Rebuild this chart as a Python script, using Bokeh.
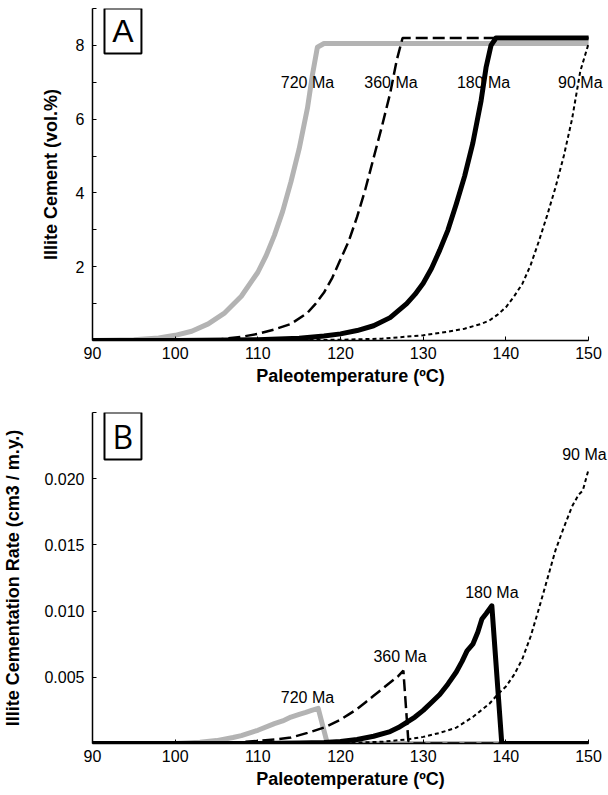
from bokeh.plotting import figure
from bokeh.models import Range1d, FixedTicker, NumeralTickFormatter, Label, BoxAnnotation
from bokeh.layouts import column
from bokeh.embed import file_html
from bokeh.resources import INLINE

# ---------------- Panel A : cumulative illite cement (vol.%) ----------------
t720_A = [90, 95, 98, 100, 102, 104, 106, 108, 110, 111, 112, 113, 114, 115, 116, 116.6, 117.2, 118, 150]
c720_A = [0, 0.02, 0.07, 0.14, 0.25, 0.45, 0.75, 1.2, 1.85, 2.3, 2.85, 3.5, 4.3, 5.2, 6.3, 7.2, 7.95, 8.05, 8.05]

t360_A = [90, 100, 105, 108, 110, 112, 114, 116, 117, 118, 119, 120, 121, 122, 123, 124, 125, 126, 126.8, 127.5, 150]
c360_A = [0, 0, 0.02, 0.1, 0.18, 0.3, 0.45, 0.75, 1.0, 1.3, 1.7, 2.2, 2.7, 3.35, 4.1, 4.95, 5.8, 6.7, 7.6, 8.2, 8.2]

t180_A = [90, 100, 110, 115, 118, 120, 122, 124, 126, 128, 129, 130, 131, 132, 133, 134, 135, 136, 137, 137.6, 138.2, 138.8, 150]
c180_A = [0, 0, 0.02, 0.06, 0.12, 0.18, 0.27, 0.4, 0.62, 1.0, 1.25, 1.55, 1.95, 2.45, 3.0, 3.7, 4.45, 5.35, 6.5, 7.4, 8.0, 8.2, 8.2]

t90_A = [90, 110, 120, 125, 130, 133, 135, 137, 138, 139, 140, 141, 142, 143, 144, 145, 146, 147, 148, 149, 150]
c90_A = [0, 0, 0.02, 0.05, 0.14, 0.24, 0.32, 0.45, 0.54, 0.7, 0.9, 1.2, 1.54, 2.05, 2.7, 3.4, 4.15, 5.0, 6.0, 7.3, 8.05]

# ---------------- Panel B : illite cementation rate (cm3 / m.y.) ----------------
t720_B = [90, 100, 103, 105, 107, 108, 110, 112, 113, 114, 115, 115.8, 116.5, 117.3, 118.4, 150]
r720_B = [0, 0, 0.0001, 0.00022, 0.00045, 0.0006, 0.001, 0.0015, 0.0017, 0.002, 0.0022, 0.00235, 0.0025, 0.00265, 0, 0]

t360_B = [90, 105, 108, 110, 112, 114, 116, 118, 120, 121, 122, 123, 124, 125, 126, 127, 127.6, 128.2, 128.5, 150]
r360_B = [0, 0, 0.0001, 0.0002, 0.0003, 0.00045, 0.0008, 0.0012, 0.0018, 0.0022, 0.0026, 0.0031, 0.0036, 0.0041, 0.0046, 0.0051, 0.0055, 0.0002, 0, 0]

t180_B = [90, 110, 115, 118, 120, 122, 124, 126, 127, 128, 129, 130, 131, 132, 133, 134, 134.7, 135.3, 136, 136.6, 137.1, 137.6, 138.3, 139.5, 150]
r180_B = [0, 0, 0.00003, 0.00008, 0.00015, 0.0003, 0.00055, 0.0009, 0.0012, 0.0016, 0.002, 0.0025, 0.0031, 0.0037, 0.0045, 0.0054, 0.0062, 0.007, 0.0075, 0.0084, 0.0094, 0.0098, 0.0104, 0, 0]

t90_B = [90, 115, 120, 125, 128, 130, 132, 134, 135, 136, 137, 138, 139, 140, 141, 142, 143, 144, 145, 146, 147, 148, 148.8, 149.3, 150]
r90_B = [0, 0, 0.00003, 0.00013, 0.0003, 0.0005, 0.0008, 0.0012, 0.0016, 0.002, 0.0025, 0.003, 0.0037, 0.0043, 0.0052, 0.0064, 0.0081, 0.0102, 0.0124, 0.0146, 0.0163, 0.0179, 0.0188, 0.0191, 0.0207]

# curve labels (text, x, y)
labels_A = [("720 Ma", 116.0, 7.0), ("360 Ma", 126.1, 7.0), ("180 Ma", 137.3, 7.0), ("90 Ma", 149.0, 7.0)]
labels_B = [("720 Ma", 116.0, 0.0035), ("360 Ma", 127.2, 0.0066), ("180 Ma", 138.3, 0.0114), ("90 Ma", 149.5, 0.0218)]

x_ticks = [90, 100, 110, 120, 130, 140, 150]
yA_ticks = [2, 4, 6, 8]
yA_minor = [1, 3, 5, 7, 9]
yB_ticks = [0.005, 0.010, 0.015, 0.020]
yB_minor = [0.025]

FONT = "Liberation Sans"
GRAY = "#b3b3b3"
X_END = 152.41  # frame extends past the 150 axis end so that the labels fit


def style(p, yticks, yminor, ylabel, fmt=None):
    p.xaxis.ticker = FixedTicker(ticks=x_ticks)
    p.xaxis.bounds = (90, 150)
    p.yaxis.ticker = FixedTicker(ticks=yticks, minor_ticks=yminor)
    if fmt:
        p.yaxis.formatter = NumeralTickFormatter(format=fmt)
    p.xgrid.visible = False
    p.ygrid.visible = False
    p.outline_line_color = None
    p.xaxis.axis_label = "Paleotemperature (ºC)"
    p.yaxis.axis_label = ylabel
    for ax in (p.xaxis, p.yaxis):
        ax.axis_line_color = "black"
        ax.axis_line_width = 1.5
        ax.major_tick_line_color = "black"
        ax.minor_tick_line_color = "black"
        ax.major_tick_in = 4
        ax.major_tick_out = 0
        ax.minor_tick_in = 4
        ax.minor_tick_out = 0
        ax.major_label_text_font = FONT
        ax.major_label_text_font_size = "16px"
        ax.major_label_text_color = "black"
        ax.axis_label_text_font = FONT
        ax.axis_label_text_font_size = "18px"
        ax.axis_label_text_font_style = "bold"
        ax.axis_label_text_color = "black"
    p.xaxis.minor_tick_line_color = None
    p.xaxis.major_label_standoff = 6
    p.xaxis.axis_label_standoff = 4
    p.yaxis.major_label_standoff = 8


def draw(p, data, labels):
    (ta, ya), (tb, yb), (tc, yc), (td, yd) = data
    p.line(ta, ya, line_color=GRAY, line_width=5, line_join="round")
    p.line(td, yd, line_color="black", line_width=2, line_dash="4 3")
    p.line(tb, yb, line_color="black", line_width=2.5, line_dash="12 5")
    p.line(tc, yc, line_color="black", line_width=5, line_join="round")
    for txt, x, y in labels:
        p.add_layout(Label(x=x, y=y, text=txt, text_font=FONT, text_font_size="16px",
                           text_align="center", text_baseline="middle", text_color="black"))


# ---------------- figure A ----------------
pA = figure(width=608, height=398, output_backend="svg", toolbar_location=None,
            x_range=Range1d(90, X_END), y_range=Range1d(0, 9),
            min_border_left=91, min_border_right=0, min_border_top=8, min_border_bottom=58)
style(pA, yA_ticks, yA_minor, "Illite Cement (vol.%)")
pA.yaxis.axis_label_standoff = 12
draw(pA, [(t720_A, c720_A), (t360_A, c360_A), (t180_A, c180_A), (t90_A, c90_A)], labels_A)
pA.add_layout(BoxAnnotation(left=91.45, right=95.92, top=9.0, bottom=7.78,
                            fill_color="white", fill_alpha=1, line_color="black",
                            line_alpha=1, line_width=2))
pA.add_layout(Label(x=93.68, y=8.39, text="A", text_font=FONT, text_font_size="32px",
                    text_align="center", text_baseline="middle", text_color="black"))

# ---------------- figure B ----------------
pB = figure(width=608, height=397, output_backend="svg", toolbar_location=None,
            x_range=Range1d(90, X_END), y_range=Range1d(0, 0.025),
            min_border_left=91, min_border_right=0, min_border_top=14, min_border_bottom=52)
style(pB, yB_ticks, yB_minor, "Illite Cementation Rate (cm3 / m.y.)", fmt="0.000")
pB.yaxis.axis_label_standoff = 18
draw(pB, [(t720_B, r720_B), (t360_B, r360_B), (t180_B, r180_B), (t90_B, r90_B)], labels_B)
pB.add_layout(BoxAnnotation(left=91.45, right=95.92, top=0.025, bottom=0.02145,
                            fill_color="white", fill_alpha=1, line_color="black",
                            line_alpha=1, line_width=2))
pB.add_layout(Label(x=93.68, y=0.0232, text="B", text_font="Open Sans", text_font_size="32px",
                    text_align="center", text_baseline="middle", text_color="black"))

layout = column(pA, pB, spacing=0)
open("out.html", "w").write(file_html(layout, INLINE))
